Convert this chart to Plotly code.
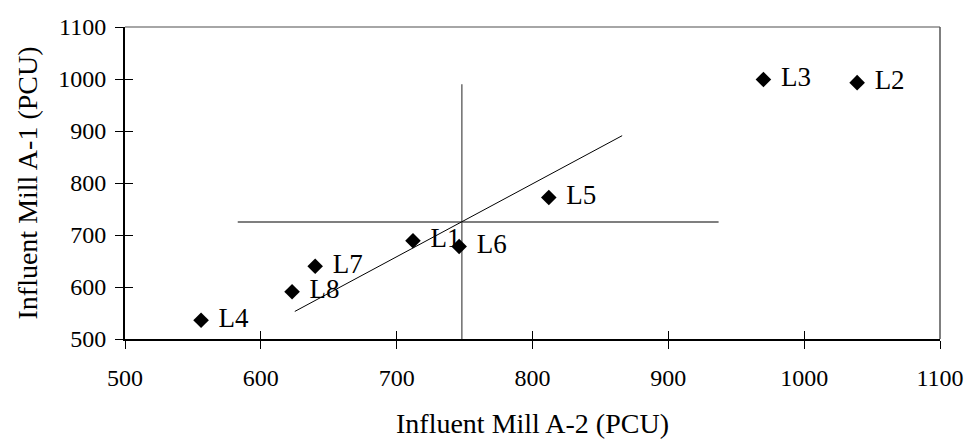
import plotly.graph_objects as go

# Data
labels = ["L1", "L2", "L3", "L4", "L5", "L6", "L7", "L8"]
mill_a2 = [712, 1039, 970, 556, 812, 746, 640, 623]
mill_a1 = [689, 993, 999, 536, 772, 678, 640, 591]

# Trend line endpoints
trend_x = [625, 866]
trend_y = [553, 891]

# Cross-hair lines
hline_x = [583, 937]
hline_y = [725, 725]
vline_x = [748, 748]
vline_y = [500, 990]

x_range = [500, 1100]
y_range = [500, 1100]
tick_vals = [500, 600, 700, 800, 900, 1000, 1100]

FONT = "Liberation Serif, Times New Roman, serif"

fig = go.Figure()

fig.add_trace(go.Scatter(x=hline_x, y=hline_y, mode="lines",
                         line=dict(color="#555555", width=1.3), hoverinfo="skip"))
fig.add_trace(go.Scatter(x=vline_x, y=vline_y, mode="lines",
                         line=dict(color="#555555", width=1.3), hoverinfo="skip"))
fig.add_trace(go.Scatter(x=trend_x, y=trend_y, mode="lines",
                         line=dict(color="black", width=1), hoverinfo="skip"))
fig.add_trace(go.Scatter(x=mill_a2, y=mill_a1, mode="markers+text",
                         text=[" \u200a" + t for t in labels], textposition="middle right",
                         textfont=dict(family=FONT, size=27, color="black"),
                         marker=dict(symbol="diamond", size=12, color="black"),
                         cliponaxis=False))
# helper trace for the inside half of the crossing ticks
fig.add_trace(go.Scatter(x=[None], y=[None], xaxis="x2", yaxis="y2", hoverinfo="skip"))

# top and right frame lines (plot-area border)
fig.add_shape(type="line", xref="paper", yref="paper", x0=0, x1=1, y0=1, y1=1,
              line=dict(color="#888888", width=1.5))
fig.add_shape(type="line", xref="paper", yref="paper", x0=1, x1=1, y0=0, y1=1,
              line=dict(color="#555555", width=1.5))

fig.update_layout(
    template="none",
    width=964, height=431,
    margin=dict(l=117, r=32, t=19, b=100, autoexpand=False),
    paper_bgcolor="white", plot_bgcolor="white",
    showlegend=False,
    font=dict(family=FONT, color="black", size=24),
    xaxis=dict(range=x_range, tickvals=tick_vals, showgrid=False, zeroline=False,
               showline=True, linecolor="black", linewidth=2, automargin=False,
               ticks="outside", ticklen=8, tickwidth=1, tickcolor="black",
               tickfont=dict(size=24), ticklabelstandoff=8,
               title=dict(text="Influent Mill A-2 (PCU)", font=dict(size=28), standoff=26)),
    yaxis=dict(range=y_range, tickvals=tick_vals, showgrid=False, zeroline=False,
               showline=True, linecolor="black", linewidth=2, automargin=False,
               ticks="outside", ticklen=8, tickwidth=1, tickcolor="black",
               tickfont=dict(size=24), ticklabelstandoff=4,
               title=dict(text="Influent Mill A-1 (PCU)", font=dict(size=28), standoff=12)),
    xaxis2=dict(range=x_range, tickvals=tick_vals, overlaying="x", side="bottom",
                showgrid=False, zeroline=False, showline=False, showticklabels=False,
                ticks="inside", ticklen=8, tickwidth=1, tickcolor="black", automargin=False),
    yaxis2=dict(range=y_range, tickvals=tick_vals, overlaying="y", side="left",
                showgrid=False, zeroline=False, showline=False, showticklabels=False,
                ticks="inside", ticklen=8, tickwidth=1, tickcolor="black", automargin=False),
)

fig.write_html("out.html", config={"displayModeBar": False})
